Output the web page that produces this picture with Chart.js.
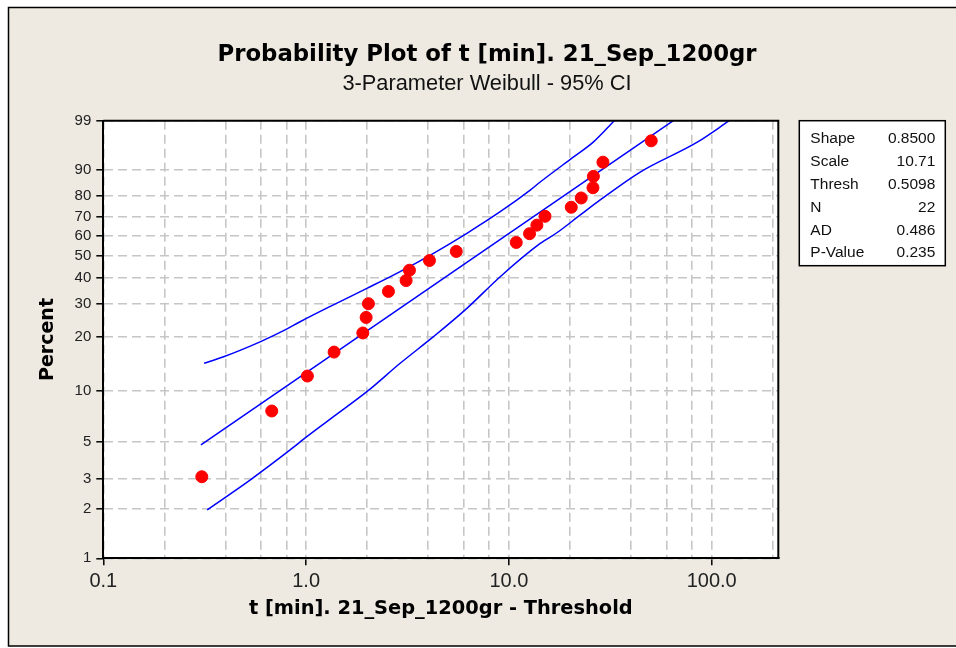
<!DOCTYPE html>
<html><head><meta charset="utf-8">
<script src="https://cdn.jsdelivr.net/npm/chart.js@4/dist/chart.umd.min.js"></script>
<style>html,body{margin:0;padding:0;background:#fff;}canvas{display:block;}</style>
</head><body>
<canvas id="c" width="956" height="648"></canvas>
<script>
// ---- data ----
const timeValues = [0.306,0.677,1.015,1.374,1.904,1.977,2.029,2.547,3.113,3.233,4.058,5.50,10.87,12.64,13.74,15.07,20.30,22.73,25.97,26.10,29.09,50.35];
const percentValues = [3.1,7.6,12.1,16.5,21.0,25.4,29.9,34.4,38.8,43.3,47.8,52.2,56.7,61.2,65.6,70.1,74.6,79.0,83.5,87.9,92.4,96.9];
const fitTime = [0.303, 64.7];
const fitPercent = [4.8, 99];
const upperTime = [0.314,0.389,0.593,0.788,0.934,1.364,1.993,2.909,4.246,6.206,9.06,12.74,14.27,20.77,26.06,33.1];
const upperPercent = [14.3,15.5,18.8,21.8,24.1,29.5,35.6,42.7,51.3,61.4,72.4,82.5,85.8,93.7,96.7,99];
const lowerTime = [0.325,0.529,0.834,1.008,1.364,1.993,2.909,4.246,6.206,9.06,14.27,17.31,22.5,28.2,44.4,84.9,122.1];
const lowerPercent = [1.96,2.96,4.48,5.37,7.04,9.84,14.29,20.05,28.3,40.45,56.2,61.8,70.8,78.1,89.4,96.7,99];
const percentTicks = [1,2,3,5,10,20,30,40,50,60,70,80,90,99];
const timeGrid = [0.1,0.2,0.4,0.6,0.8,1,2,4,6,8,10,20,40,60,80,100,200];
const timeLabels = {'0.1':'0.1','1':'1.0','10':'10.0','100':'100.0'};
const statNames = ['Shape','Scale','Thresh','N','AD','P-Value'];
const statValues = ['0.8500','10.71','0.5098','22','0.486','0.235'];

const toXY = (xs, ys) => xs.map((x, i) => ({x: x, y: ys[i]}));

// ---- Weibull probability scale ----
const wb = p => Math.log(-Math.log(1 - p / 100));
const wbInv = w => 100 * (1 - Math.exp(-Math.exp(w)));
class WeibullScale extends Chart.LinearScale {
  determineDataLimits() { this.min = this.options.min; this.max = this.options.max; }
  buildTicks() { return percentTicks.map(v => ({value: v})); }
  getPixelForValue(value) {
    const a = wb(this.min), b = wb(this.max);
    return this.getPixelForDecimal((wb(value) - a) / (b - a));
  }
  getValueForPixel(pixel) {
    const a = wb(this.min), b = wb(this.max);
    return wbInv(a + this.getDecimalForPixel(pixel) * (b - a));
  }
}
WeibullScale.id = 'weibull';
WeibullScale.defaults = Chart.LinearScale.defaults;
Chart.register(WeibullScale);

const BEIGE = '#eeeae2';
const bgPlugin = {
  id: 'bg',
  beforeDraw(chart) {
    const {ctx, chartArea: a} = chart;
    ctx.save();
    ctx.fillStyle = '#ffffff';
    ctx.fillRect(0, 0, chart.width, chart.height);
    ctx.fillStyle = BEIGE;
    ctx.fillRect(8, 7, chart.width - 8, 639);
    ctx.strokeStyle = '#000'; ctx.lineWidth = 1.5;
    ctx.beginPath();
    ctx.moveTo(chart.width, 7.5); ctx.lineTo(8.5, 7.5); ctx.lineTo(8.5, 646); ctx.lineTo(chart.width, 646);
    ctx.stroke();
    ctx.fillStyle = '#ffffff';
    ctx.fillRect(a.left, a.top, a.right - a.left, a.bottom - a.top);
    ctx.restore();
  },
  afterDraw(chart) {
    const {ctx, chartArea: a} = chart;
    ctx.save();
    ctx.strokeStyle = '#000'; ctx.lineWidth = 2;
    ctx.beginPath();
    ctx.moveTo(a.left, a.top); ctx.lineTo(a.right, a.top); ctx.lineTo(a.right, a.bottom);
    ctx.stroke();
    // statistics box
    const bx = a.right + 21, by = a.top, bw = 146, bh = 145;
    ctx.fillStyle = '#fff';
    ctx.fillRect(bx, by, bw, bh);
    ctx.lineWidth = 1.5;
    ctx.strokeRect(bx, by, bw, bh);
    ctx.fillStyle = '#111';
    ctx.font = '15.5px "Liberation Sans", Arial, sans-serif';
    ctx.textBaseline = 'alphabetic';
    statNames.forEach((n, i) => {
      const yy = by + 22.6 + i * 22.8;
      ctx.textAlign = 'left';
      ctx.fillText(n, bx + 11, yy);
      ctx.textAlign = 'right';
      ctx.fillText(statValues[i], bx + bw - 10, yy);
    });
    ctx.restore();
  }
};

new Chart(document.getElementById('c'), {
  type: 'scatter',
  data: {
    datasets: [
      {label: 'Data', data: toXY(timeValues, percentValues), backgroundColor: '#ff0000', borderColor: '#ff0000', pointRadius: 6, pointHoverRadius: 6, showLine: false},
      {label: 'Fit', data: toXY(fitTime, fitPercent), borderColor: '#0000ff', borderWidth: 1.5, pointRadius: 0, showLine: true},
      {label: 'Upper', data: toXY(upperTime, upperPercent), borderColor: '#0000ff', borderWidth: 1.5, pointRadius: 0, showLine: true, cubicInterpolationMode: 'monotone'},
      {label: 'Lower', data: toXY(lowerTime, lowerPercent), borderColor: '#0000ff', borderWidth: 1.5, pointRadius: 0, showLine: true, cubicInterpolationMode: 'monotone'}
    ]
  },
  options: {
    responsive: false,
    animation: false,
    devicePixelRatio: 1,
    layout: {padding: {left: 18, right: 0, top: 0, bottom: 0}},
    plugins: {
      legend: {display: false},
      tooltip: {enabled: false},
      title: {display: true, text: 'Probability Plot of t [min]. 21_Sep_1200gr', color: '#000',
        font: {family: '"DejaVu Sans", sans-serif', size: 22.8, weight: 'bold'}, padding: {top: 41.6, bottom: 0}},
      subtitle: {display: true, text: '3-Parameter Weibull - 95% CI', color: '#111',
        font: {family: '"Liberation Sans", Arial, sans-serif', size: 21.8}, padding: {top: 1.76, bottom: 23.82}}
    },
    scales: {
      x: {
        type: 'logarithmic', min: 0.1, max: 213,
        afterBuildTicks: s => { s.ticks = timeGrid.map(v => ({value: v})); },
        afterFit: s => { s.height = 89.7; },
        ticks: {autoSkip: false, maxRotation: 0, minRotation: 0, padding: 4.4, color: '#222',
          font: {family: '"Liberation Sans", Arial, sans-serif', size: 20},
          callback: v => timeLabels[String(v)] || ''},
        grid: {color: '#c6c6c6', lineWidth: 1.6, tickLength: 7, tickWidth: 1.5,
          tickColor: c => (c.tick && timeLabels[String(c.tick.value)]) ? '#000' : 'rgba(0,0,0,0)'},
        border: {color: '#000', width: 2, dash: [9, 5]},
        title: {display: true, text: 't [min]. 21_Sep_1200gr - Threshold', color: '#000',
          font: {family: '"DejaVu Sans", sans-serif', size: 19.4, weight: 'bold'}, padding: {top: 0, bottom: 27.6}}
      },
      y: {
        type: 'weibull', min: 1, max: 99,
        afterFit: s => { s.width = 85.3; },
        ticks: {autoSkip: false, padding: 5, color: '#222',
          font: {family: '"Liberation Sans", Arial, sans-serif', size: 15},
          callback: v => String(v)},
        grid: {color: '#c6c6c6', lineWidth: 1.6, tickLength: 7, tickWidth: 1.5, tickColor: '#000'},
        border: {color: '#000', width: 2, dash: [9, 5]},
        title: {display: true, text: 'Percent', color: '#000',
          font: {family: '"DejaVu Sans", sans-serif', size: 19, weight: 'bold'}, padding: {top: 18.6, bottom: 0}}
      },
      side: {
        type: 'linear', position: 'right', display: true,
        afterFit: s => { s.width = 177.7; },
        ticks: {display: false},
        grid: {display: false, drawOnChartArea: false},
        border: {display: false},
        title: {display: false}
      }
    }
  },
  plugins: [bgPlugin]
});
</script>
</body></html>
